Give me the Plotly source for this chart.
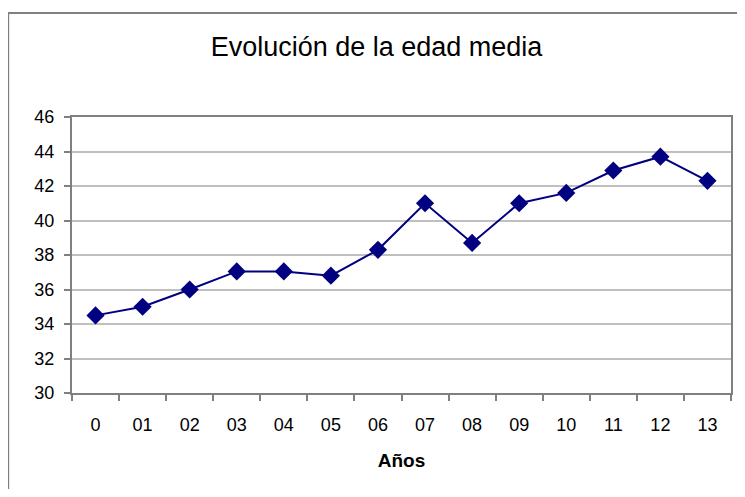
import plotly.graph_objects as go

years = ["0", "01", "02", "03", "04", "05", "06", "07", "08", "09", "10", "11", "12", "13"]
edad_media = [34.5, 35.0, 36.0, 37.05, 37.05, 36.8, 38.3, 41.0, 38.7, 41.0, 41.6, 42.9, 43.7, 42.3]

# page body has an 8px margin, so the figure is sized/offset to compensate
W, H = 737, 481
ml, mr, mt, mb = 64, 12, 109, 96
pw, ph = W - ml - mr, H - mt - mb

fig = go.Figure()
fig.add_trace(go.Scatter(
    x=years, y=edad_media, mode="lines+markers",
    line=dict(color="#000080", width=2),
    marker=dict(symbol="diamond", size=14, color="#000080"),
    showlegend=False, cliponaxis=False,
))

font = "Liberation Sans, Arial, sans-serif"
fig.update_layout(
    width=W, height=H,
    margin=dict(l=ml, r=mr, t=mt, b=mb),
    paper_bgcolor="white", plot_bgcolor="white",
    title=dict(text="Evolución de la edad media", x=0.5, xanchor="center",
               y=1 - 39 / H, yanchor="middle",
               font=dict(family=font, size=27, color="black")),
    xaxis=dict(
        type="category", tickson="boundaries", ticks="outside", ticklen=6,
        tickcolor="#808080", tickwidth=2, showline=True, linecolor="#808080",
        linewidth=2, showgrid=False, mirror=True, ticklabelstandoff=14,
        tickfont=dict(family=font, size=18, color="black"),
        title=dict(text="<b>Años</b>", font=dict(family=font, size=19, color="black"),
                   standoff=20),
        range=[-0.5, len(years) - 0.5],
    ),
    yaxis=dict(
        range=[30, 46], dtick=2, ticks="outside", ticklen=6, tickcolor="#808080",
        tickwidth=2, showline=True, linecolor="#808080", linewidth=2, mirror=True,
        showgrid=True, gridcolor="#c0c0c0", gridwidth=2, zeroline=False,
        ticklabelstandoff=6,
        tickfont=dict(family=font, size=18, color="black"),
    ),
)

# outer chart border (Excel chart area frame)
fig.add_shape(type="rect", xref="paper", yref="paper",
              x0=(0 - ml) / pw, x1=(W + 20 - ml) / pw,
              y0=-(mb + 20) / ph, y1=(H - 5 - mb) / ph,
              line=dict(color="#808080", width=2), layer="below")

fig.write_html("out.html")
